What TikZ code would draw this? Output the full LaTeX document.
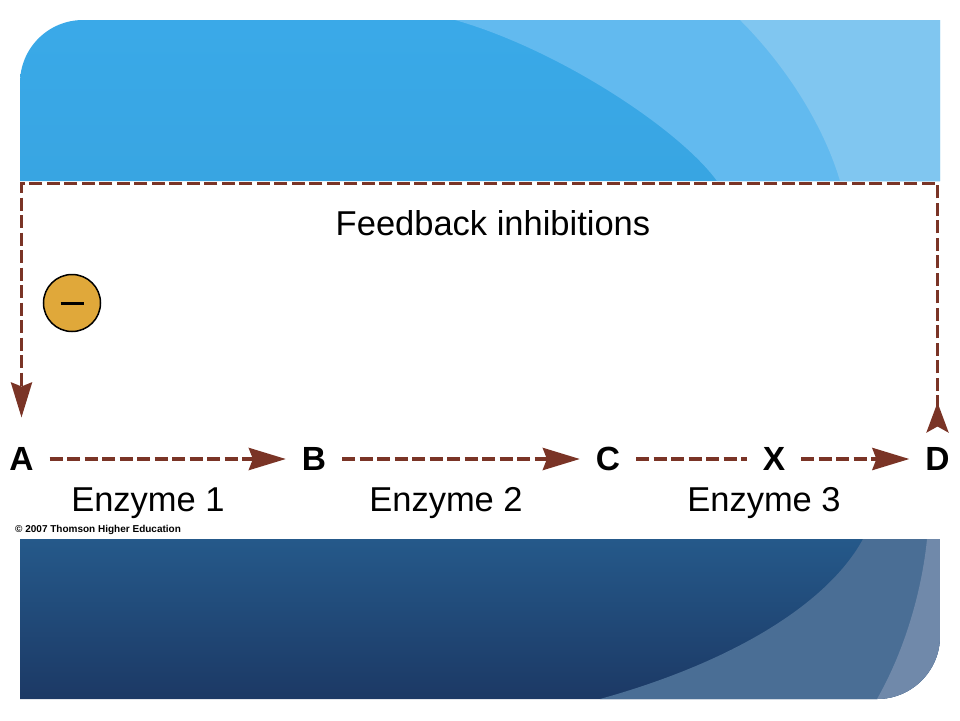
\documentclass[tikz,border=0pt]{standalone}
\usepackage{fontspec}
\setmainfont{Liberation Sans}
\usetikzlibrary{arrows.meta,calc,positioning}
\definecolor{skyblue}{RGB}{58,170,233}
\definecolor{skymid}{RGB}{98,186,239}
\definecolor{skylight}{RGB}{128,198,240}
\definecolor{deeptop}{RGB}{37,89,138}
\definecolor{deepbot}{RGB}{28,57,101}
\definecolor{deepmid}{RGB}{74,110,149}
\definecolor{deeplight}{RGB}{112,137,170}
\definecolor{rust}{RGB}{122,52,38}
\definecolor{gold}{RGB}{224,168,58}
\tikzset{
  metab/.style={font=\fontsize{33.5}{36}\selectfont\bfseries,inner sep=0pt,outer xsep=16pt,outer ysep=15pt},
  enzlabel/.style={font=\fontsize{34.5}{38}\selectfont,inner sep=0pt,anchor=base},
  flow/.style={rust,line width=4pt,dash pattern=on 13pt off 4.5pt},
  headtip/.tip={Stealth[length=37pt,width=22pt,inset=4pt]},
}
\begin{document}
\begin{tikzpicture}[x=1pt,y=-1pt]
\useasboundingbox (0,0) rectangle (960,720);
\begin{scope}
\clip (20,181) [rounded corners=63pt] -- (20,20) [sharp corners] -- (940,20) -- (940,181) -- cycle;
\shade[top color=skyblue,bottom color=skyblue!97!black] (0,0) rectangle (960,181);
\fill[skymid] (455,20) .. controls (560,50) and (680,130) .. (717,181) -- (940,181) -- (940,20) -- cycle;
\fill[skylight] (740,20) .. controls (790,70) and (825,130) .. (840,181) -- (940,181) -- (940,20) -- cycle;
\end{scope}
\begin{scope}
\clip (20,539) -- (940,539) [rounded corners=63pt] -- (940,699) [sharp corners] -- (20,699) -- cycle;
\shade[top color=deeptop,bottom color=deepbot] (0,539) rectangle (960,699);
\fill[deepmid] (600,699) .. controls (740,660) and (830,600) .. (863,539) -- (940,539) -- (940,699) -- cycle;
\fill[deeplight] (877,699) .. controls (905,650) and (922,590) .. (927,539) -- (940,539) -- (940,699) -- cycle;
\end{scope}
\node[metab] (A) at (21.5,459) {A};
\node[metab] (B) at (314,459) {B};
\node[metab] (C) at (608,459) {C};
\node[metab] (X) at (774,459) {X};
\node[metab] (D) at (937.5,459) {D};
\node[enzlabel] (enz1) at (148,511) {Enzyme 1};
\node[enzlabel] (enz2) at (446,511) {Enzyme 2};
\node[enzlabel] (enz3) at (764,511) {Enzyme 3};
\node[enzlabel] (fbtext) at (493,235) {Feedback inhibitions};
\node[font=\fontsize{10}{12}\selectfont\bfseries,inner sep=0pt,anchor=base west] (credit) at (15,532) {© 2007 Thomson Higher Education};
\node[circle,draw=black,line width=1.5pt,fill=gold,minimum size=57pt,inner sep=0pt] (minus) at (72,303) {};
\draw[line width=3pt] ($(minus.center)+(-11.5,0)$) -- ($(minus.center)+(11.5,0)$);
\coordinate (fbA) at (A |- 0,183.5);
\coordinate (fbD) at (D |- 0,183.5);
\draw[flow,-headtip] (A) -- (B);
\draw[flow,-headtip] (B) -- (C);
\draw[flow] (C) -- (X);
\draw[flow,-headtip] (X) -- (D);
\draw[flow,line width=3.5pt,{Stealth[length=30pt,width=22pt,inset=6pt,reversed]}-{Stealth[length=35pt,width=21pt,inset=4pt]},shorten >=15pt] (D) -- (fbD) -- (fbA) -- (A);
\end{tikzpicture}
\end{document}
